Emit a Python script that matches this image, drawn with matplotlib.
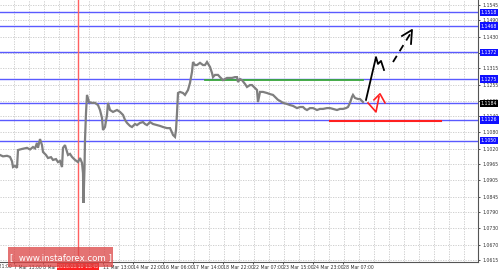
import matplotlib
matplotlib.use("Agg")
import matplotlib.pyplot as plt
from matplotlib.patches import Rectangle
import matplotlib.transforms as mtransforms

# ---- data ----
bars = [0, 3, 7, 10, 12, 13, 15, 17, 18, 22, 27, 30, 33, 35, 37, 38, 40, 42, 43, 46, 48, 51, 53, 56, 58,
        60, 62, 63, 65, 68, 70, 72, 75, 78, 80, 82, 83, 83.5, 84.5, 85, 86, 87, 89, 92, 95, 98, 100, 102,
        103, 105, 107, 108, 110, 113, 117, 120, 123, 125, 127, 130, 132, 135, 137, 140, 143, 145, 147,
        150, 153, 157, 160, 163, 167, 170, 172, 173, 175, 176, 177, 178, 180, 183, 185, 188, 190, 192,
        193, 195, 197, 200, 203, 205, 207, 210, 212, 213, 215, 218, 220, 223, 227, 232, 235, 237, 238,
        240, 242, 245, 247, 250, 252, 255, 257, 258, 260, 263, 267, 270, 273, 276, 278, 280, 283, 287,
        290, 293, 297, 300, 303, 305, 307, 310, 313, 317, 320, 323, 327, 330, 333, 337, 340, 343, 346,
        348, 350, 352, 353, 355, 358, 360, 362, 363]
prices = [1.0998, 1.0993, 1.0995, 1.0991, 1.0975, 1.0954, 1.0958, 1.0951, 1.1016, 1.1020, 1.1024, 1.1018,
          1.1027, 1.1022, 1.1042, 1.1024, 1.1056, 1.1034, 1.1009, 1.0998, 1.0987, 1.0990, 1.0980, 1.0983,
          1.0972, 1.0976, 1.0954, 1.1024, 1.1034, 1.0998, 1.1002, 1.0991, 1.0980, 1.0972, 1.0987, 1.0969,
          1.0932, 1.0823, 1.0950, 1.1053, 1.1151, 1.1217, 1.1191, 1.1188, 1.1188, 1.1180, 1.1162, 1.1133,
          1.1089, 1.1100, 1.1144, 1.1188, 1.1162, 1.1155, 1.1162, 1.1155, 1.1144, 1.1126, 1.1115, 1.1104,
          1.1100, 1.1111, 1.1107, 1.1115, 1.1118, 1.1111, 1.1107, 1.1118, 1.1111, 1.1107, 1.1104, 1.1100,
          1.1096, 1.1096, 1.1080, 1.1071, 1.1064, 1.1089, 1.1150, 1.1224, 1.1228, 1.1224, 1.1217, 1.1235,
          1.1261, 1.1301, 1.1337, 1.1326, 1.1326, 1.1334, 1.1326, 1.1326, 1.1337, 1.1319, 1.1297, 1.1282,
          1.1290, 1.1290, 1.1282, 1.1271, 1.1279, 1.1279, 1.1282, 1.1282, 1.1264, 1.1275, 1.1271, 1.1257,
          1.1246, 1.1253, 1.1253, 1.1242, 1.1235, 1.1191, 1.1228, 1.1228, 1.1224, 1.1220, 1.1217, 1.1206,
          1.1199, 1.1195, 1.1188, 1.1184, 1.1180, 1.1177, 1.1169, 1.1173, 1.1173, 1.1166, 1.1162, 1.1169,
          1.1169, 1.1162, 1.1166, 1.1166, 1.1169, 1.1169, 1.1166, 1.1162, 1.1166, 1.1166, 1.1169, 1.1173,
          1.1188, 1.1210, 1.1217, 1.1206, 1.1202, 1.1202, 1.1195, 1.1191]

level_prices = [1.1518, 1.1468, 1.1372, 1.1275, 1.1187, 1.1126, 1.1050]
level_labels = ["1.1518", "1.1468", "1.1372", "1.1275", "1.1184", "1.1126", "1.1050"]
current_price_label = "1.1184"

green_start, green_end, green_price = 205, 363, 1.1273
red_start, red_end, red_price = 330, 441, 1.1123

ytick_values = [1.1545, 1.1490, 1.1430, 1.1370, 1.1315, 1.1255, 1.1195, 1.1140, 1.1080, 1.1020,
                1.0965, 1.0905, 1.0845, 1.0790, 1.0730, 1.0670, 1.0615]

xtick_bars = [-16, 14, 43, 103, 133, 163, 193, 223, 253, 283, 313, 343]
xtick_labels = ["4 Mar 21:00", "7 Mar 13:00", "8 Mar 21:00", "11 Mar 13:00", "14 Mar 22:00",
                "16 Mar 06:00", "17 Mar 14:00", "18 Mar 22:00", "22 Mar 07:00", "23 Mar 15:00",
                "24 Mar 23:00", "28 Mar 07:00"]
event_bar = 78
event_label = "2016.03.10 13:45"

black_path_x = [366, 376, 378, 381, 384]
black_path_p = [1.1199, 1.1355, 1.1330, 1.1341, 1.1308]
dash_x = [393, 412]
dash_p = [1.1337, 1.1450]
dash_head_x = [402, 412, 411]
dash_head_p = [1.1432, 1.1454, 1.1403]
red_path_x = [368, 376, 379]
red_path_p = [1.1188, 1.1155, 1.1210]
red_head_x = [374, 380, 385]
red_head_p = [1.1199, 1.1221, 1.1188]

# ---- figure ----
W, H = 500, 272
FS = 3.3
fig = plt.figure(figsize=(W / 100, H / 100), dpi=100)
ax = fig.add_axes([0, 10 / H, 478 / W, 262 / H])
ax.set_xlim(0, 478)
ax.set_ylim(1.06077, 1.15632)

# grid
for gx in range(-1, 478, 15):
    ax.axvline(gx, color="#c8c8c8", lw=0.6, ls=(0, (1.5, 1.5)), zorder=0)
for gy in ytick_values:
    ax.axhline(gy, color="#c8c8c8", lw=0.6, ls=(0, (1.5, 1.5)), zorder=0)

# levels
for lp in level_prices:
    ax.axhline(lp, color="#5a5aff", lw=1.0, zorder=1)

ax.axvline(event_bar, color="#ff6060", lw=1.0, zorder=1)

ax.plot(bars, prices, color="#7f7f7f", lw=1.6, zorder=3, solid_joinstyle="miter")

ax.plot([green_start, green_end], [green_price, green_price], color="#3aa83a", lw=1.3, zorder=2)
ax.plot([red_start, red_end], [red_price, red_price], color="#ff2020", lw=1.5, zorder=2)

ax.plot(black_path_x, black_path_p, color="black", lw=1.3, zorder=4)
ax.plot(dash_x, dash_p, color="black", lw=1.3, ls=(0, (4, 3)), zorder=4)
ax.plot(dash_head_x, dash_head_p, color="black", lw=1.3, zorder=4)
ax.plot(red_path_x, red_path_p, color="#ff2020", lw=1.2, zorder=4)
ax.plot(red_head_x, red_head_p, color="#ff2020", lw=1.2, zorder=4)

# axes styling
for s in ["left", "top"]:
    ax.spines[s].set_visible(False)
ax.spines["right"].set_color("#555555")
ax.spines["bottom"].set_color("#555555")
ax.spines["right"].set_linewidth(0.8)
ax.spines["bottom"].set_linewidth(0.8)
ax.yaxis.tick_right()
ax.set_yticks(ytick_values)
ax.set_yticklabels([f"{v:.4f}" for v in ytick_values])
ax.tick_params(axis="y", labelsize=FS, colors="#333333", length=1.5, width=0.6, pad=1.5)
ax.set_xticks(xtick_bars[1:])
ax.set_xticklabels(xtick_labels[1:], ha="left")
ax.tick_params(axis="x", labelsize=FS, colors="#333333", length=1.5, width=0.6, pad=1)
ax.text(xtick_bars[0], 1.06077 - 0.0008, xtick_labels[0], fontsize=FS, color="#333333",
        ha="left", va="top", transform=ax.transData, clip_on=False)

# event label on x axis
ax.text(event_bar, 1.06077 - 0.0008, event_label, fontsize=FS, color="white", ha="center", va="top",
        clip_on=False, zorder=10,
        bbox=dict(boxstyle="square,pad=0.2", facecolor="#ff2020", edgecolor="none"))

# level labels on right
trans = mtransforms.blended_transform_factory(ax.transAxes, ax.transData)
for lp, lt in zip(level_prices, level_labels):
    fc = "black" if lt == current_price_label else "#1010ff"
    ax.text(1.006, lp, lt, fontsize=FS, color="white", ha="left", va="center", transform=trans,
            clip_on=False, zorder=10,
            bbox=dict(boxstyle="square,pad=0.25", facecolor=fc, edgecolor="none"))

# watermark
fig.patches.append(Rectangle((8 / W, 5 / H), 105 / W, 20 / H, transform=fig.transFigure,
                             facecolor="#dc4444", alpha=0.75, edgecolor="none", zorder=20))
fig.text(60.5 / W, 14 / H, "[  www.instaforex.com ]", fontsize=6.2, color="white",
         ha="center", va="center", zorder=21)

fig.savefig("out.png", dpi=100)
